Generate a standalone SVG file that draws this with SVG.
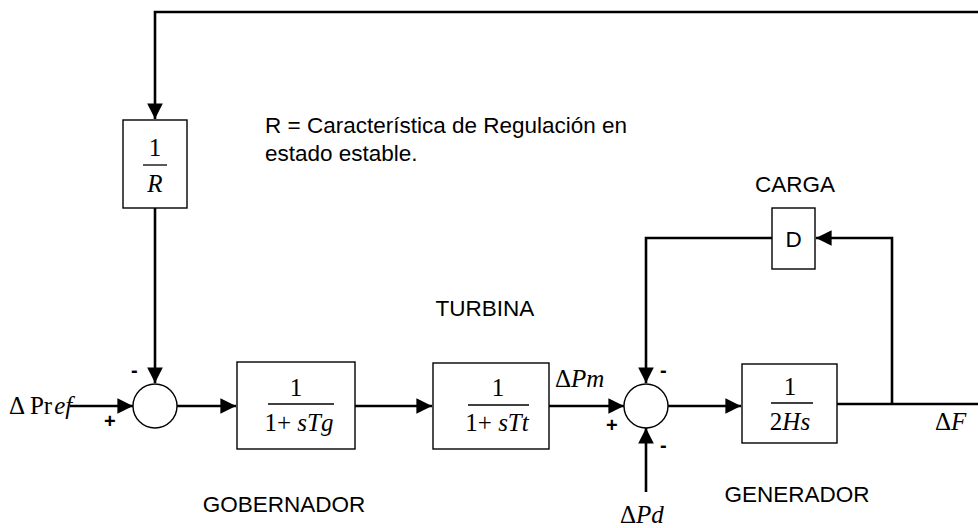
<svg xmlns="http://www.w3.org/2000/svg" width="978" height="528" viewBox="0 0 978 528">
<style>
.blk{fill:#fff;stroke:#000;stroke-width:1.4}
.ln{fill:none;stroke:#000;stroke-width:2.6}
.lab{font-family:"Liberation Sans",Arial,sans-serif;font-size:22.5px;fill:#000}
.m{font-family:"Liberation Serif","Times New Roman",serif;font-size:25px;fill:#000}
.i{font-style:italic}
.sg{font-family:"Liberation Sans",Arial,sans-serif;font-size:20px;font-weight:bold;fill:#000}
</style>
<defs>
<marker id="ah" viewBox="0 0 10 10" refX="10" refY="5" markerWidth="6" markerHeight="6" orient="auto" markerUnits="strokeWidth"><path d="M0,0 L10,5 L0,10 z" fill="#000"/></marker>
</defs>
<g id="connectors">
<path class="ln" d="M978,12 H155 V119" marker-end="url(#ah)"/>
<path class="ln" d="M155,208 V383" marker-end="url(#ah)"/>
<path class="ln" d="M70,406 H133" marker-end="url(#ah)"/>
<path class="ln" d="M177,406 H236" marker-end="url(#ah)"/>
<path class="ln" d="M355,406 H432" marker-end="url(#ah)"/>
<path class="ln" d="M549,406 H624" marker-end="url(#ah)"/>
<path class="ln" d="M668,406 H741" marker-end="url(#ah)"/>
<path class="ln" d="M837,404 H978"/>
<path class="ln" d="M892,404 V238 H816" marker-end="url(#ah)"/>
<path class="ln" d="M772,238 H646 V383" marker-end="url(#ah)"/>
<path class="ln" d="M646,492 V428" marker-end="url(#ah)"/>
</g>
<g id="node-R">
<rect class="blk" x="123" y="120" width="64" height="88"/>
<text class="m" x="155" y="156" text-anchor="middle">1</text>
<line x1="143" y1="165" x2="167" y2="165" stroke="#000" stroke-width="1.3"/>
<text class="m i" x="155" y="192" text-anchor="middle">R</text>
</g>
<g id="node-sum1">
<circle class="blk" cx="155" cy="406" r="22"/>
</g>
<g id="node-gobernador">
<rect class="blk" x="237" y="362" width="118" height="87"/>
<text class="m" x="296" y="396" text-anchor="middle">1</text>
<line x1="268" y1="404" x2="334" y2="404" stroke="#000" stroke-width="1.3"/>
<text class="m" x="299" y="431" text-anchor="middle">1+ <tspan class="i">sTg</tspan></text>
</g>
<g id="node-turbina">
<rect class="blk" x="433" y="363" width="116" height="86"/>
<text class="m" x="498" y="396" text-anchor="middle">1</text>
<line x1="468" y1="405" x2="529" y2="405" stroke="#000" stroke-width="1.3"/>
<text class="m" x="497" y="431" text-anchor="middle">1+ <tspan class="i">sTt</tspan></text>
</g>
<g id="node-sum2">
<circle class="blk" cx="646" cy="406" r="22"/>
</g>
<g id="node-generador">
<rect class="blk" x="742" y="364" width="95" height="79"/>
<text class="m" x="790" y="395" text-anchor="middle">1</text>
<line x1="771" y1="403" x2="813" y2="403" stroke="#000" stroke-width="1.3"/>
<text class="m" x="790" y="430" text-anchor="middle">2<tspan class="i">Hs</tspan></text>
</g>
<g id="node-D">
<rect class="blk" x="772" y="208" width="43" height="61"/>
<text class="lab" x="793.5" y="247" text-anchor="middle">D</text>
</g>
<g id="labels">
<text class="lab" x="265" y="133" font-size="23">R = Característica de Regulación en</text>
<text class="lab" x="265" y="161" font-size="23">estado estable.</text>
<text class="lab" x="795" y="192" text-anchor="middle">CARGA</text>
<text class="lab" x="485" y="316" text-anchor="middle">TURBINA</text>
<text class="lab" x="284" y="512" text-anchor="middle">GOBERNADOR</text>
<text class="lab" x="797" y="502" text-anchor="middle">GENERADOR</text>
<text class="m" x="9" y="414" font-size="23">Δ Pr<tspan class="i" dx="2">ef</tspan></text>
<text class="m" x="555" y="387">Δ<tspan class="i">Pm</tspan></text>
<text class="m" x="620" y="523">Δ<tspan class="i">Pd</tspan></text>
<text class="m" x="935" y="430">Δ<tspan class="i">F</tspan></text>
<text class="sg" x="104" y="428">+</text>
<text class="sg" x="131" y="377">-</text>
<text class="sg" x="606" y="432">+</text>
<text class="sg" x="660" y="377">-</text>
<text class="sg" x="660" y="452">-</text>
</g>
</svg>
